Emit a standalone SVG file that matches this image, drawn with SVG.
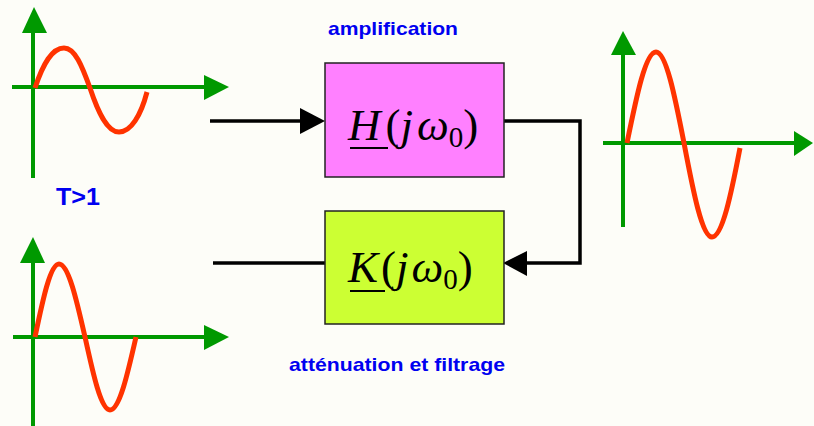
<svg xmlns="http://www.w3.org/2000/svg" width="814" height="426" viewBox="0 0 814 426">
<style>
.axis{stroke:#009900;stroke-width:4;fill:none}
.head{fill:#009900}
.wave{stroke:#ff3300;stroke-width:5;fill:none;stroke-linecap:butt}
.wire{stroke:#000;stroke-width:3.5;fill:none}
.arr{fill:#000}
.lbl{font-family:"Liberation Sans",Arial,sans-serif;font-weight:bold;fill:#0000f0}
.math{font-family:"Liberation Serif","Times New Roman",serif;font-size:45px;fill:#000}
.box{stroke:#222;stroke-width:1.5}
</style>
<rect width="814" height="426" fill="#fdfdf8"/>

<g id="graph-top-left">
<line class="axis" x1="33" y1="178" x2="33" y2="30"/>
<polygon class="head" points="34,7 22,33 47,33"/>
<line class="axis" x1="12" y1="87" x2="206" y2="87"/>
<polygon class="head" points="229,87 204,75 204,100"/>
<path class="wave" d="M35,88 C43,64 52,48 64,48 C75,48 82,66 90,88 C98,112 107,132 119,132 C131,132 141,115 147,92"/>
</g>

<g id="graph-right">
<line class="axis" x1="623" y1="227" x2="623" y2="52"/>
<polygon class="head" points="623,31 611,55 636,55"/>
<line class="axis" x1="603" y1="143" x2="796" y2="143"/>
<polygon class="head" points="813,143 794,131 794,156"/>
<path class="wave" d="M627,143 C636.5,96.4 645.5,52 656,52 C666.1,52 674.9,96.4 684,143 C693.1,191 702,237 712,237 C722.2,237 731,195 740,148"/>
</g>

<g id="graph-bottom-left">
<line class="axis" x1="33" y1="426" x2="33" y2="260"/>
<polygon class="head" points="33,237 20,263 45,263"/>
<line class="axis" x1="13" y1="337" x2="206" y2="337"/>
<polygon class="head" points="229,337 204,325 204,350"/>
<path class="wave" d="M35,337 C42.8,299.6 50.3,264 59,264 C68.4,264 76.5,299.6 85,337 C93.2,374.4 101,410 110,410 C119.4,410 127.5,374.4 136,337"/>
</g>

<g id="connectors">
<line class="wire" x1="210" y1="121" x2="302" y2="121"/>
<polygon class="arr" points="325,121 300,108 300,134"/>
<polyline class="wire" points="504,121 580,121 580,263 526,263"/>
<polygon class="arr" points="503,263 527,251 527,276"/>
<line class="wire" x1="213" y1="263" x2="325" y2="263"/>
</g>

<g id="node-H">
<rect class="box" x="325" y="63" width="179" height="114" fill="#ff80ff"/>
<text class="math" x="348" y="140"><tspan font-style="italic">H</tspan><tspan dx="5">(</tspan><tspan font-style="italic">j</tspan><tspan dx="4" font-style="italic">ω</tspan><tspan dy="7" font-size="29">0</tspan><tspan dy="-7">)</tspan></text>
<line x1="350" y1="148" x2="388" y2="148" stroke="#000" stroke-width="2"/>
</g>

<g id="node-K">
<rect class="box" x="325" y="211" width="179" height="113" fill="#ccff33"/>
<text class="math" x="348" y="282"><tspan font-style="italic">K</tspan><tspan dx="3">(</tspan><tspan font-style="italic">j</tspan><tspan dx="3" font-style="italic">ω</tspan><tspan dy="7" font-size="29">0</tspan><tspan dy="-7">)</tspan></text>
<line x1="350" y1="291" x2="385" y2="291" stroke="#000" stroke-width="2"/>
</g>

<text class="lbl" x="328" y="35" font-size="19" textLength="130" lengthAdjust="spacingAndGlyphs">amplification</text>
<text class="lbl" x="289" y="371" font-size="19" textLength="216" lengthAdjust="spacingAndGlyphs">atténuation et filtrage</text>
<text class="lbl" x="56" y="205" font-size="24" textLength="44" lengthAdjust="spacingAndGlyphs">T&gt;1</text>
</svg>
